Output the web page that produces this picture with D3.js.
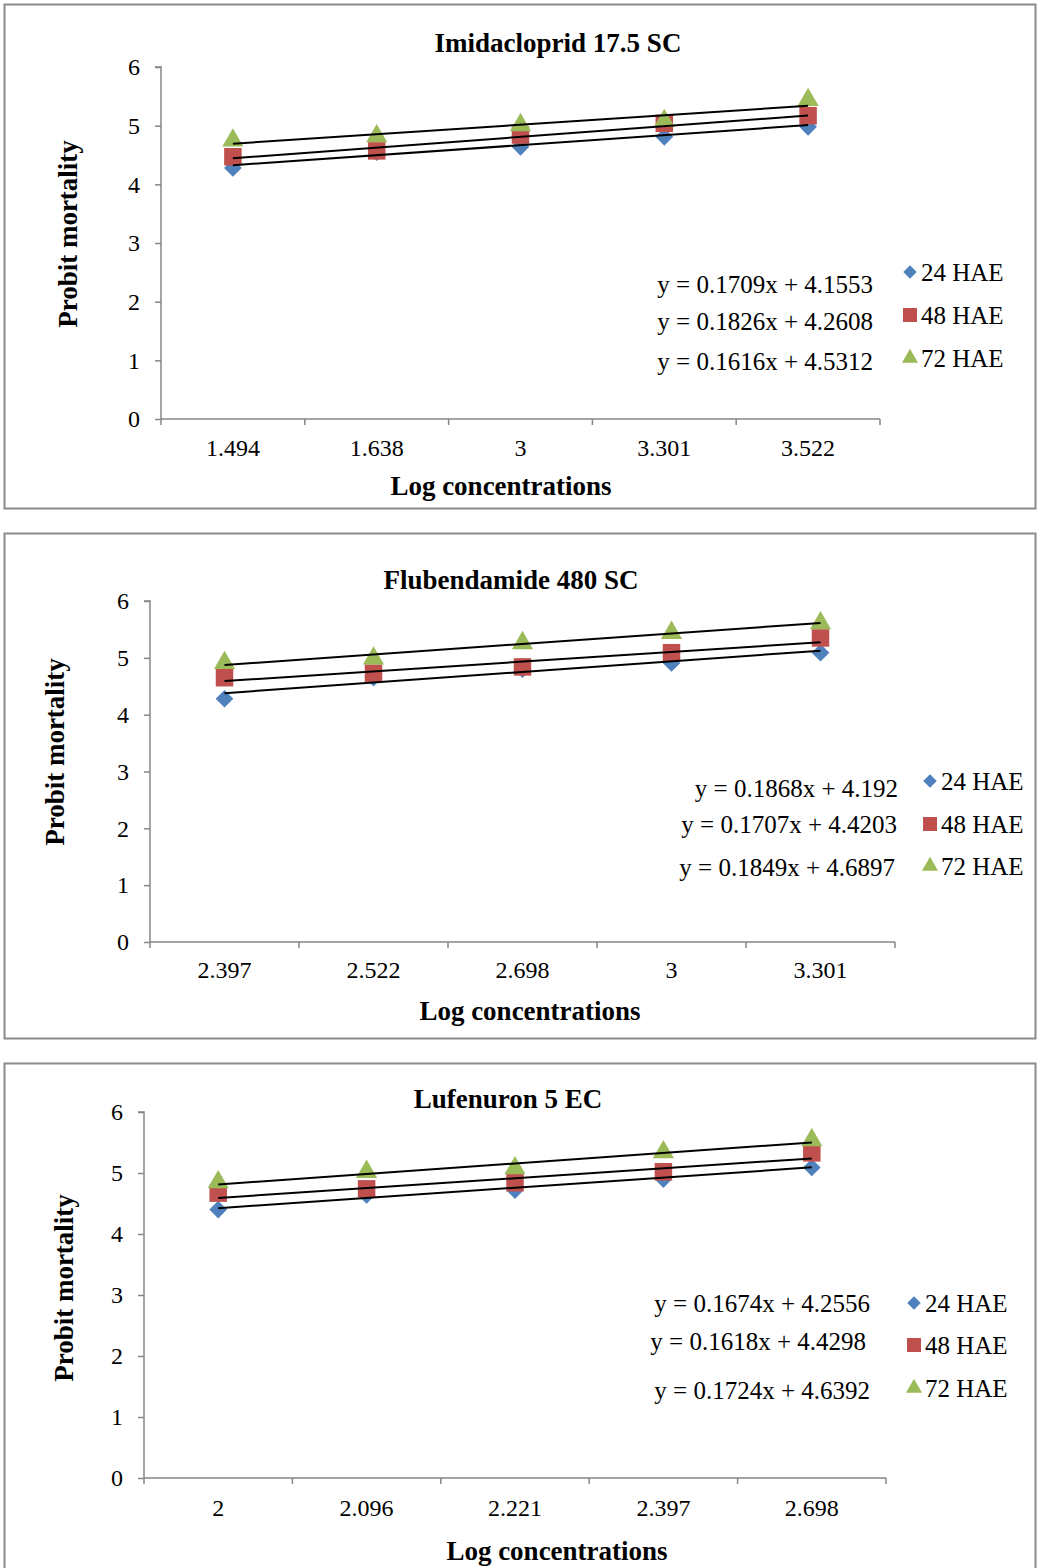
<!DOCTYPE html>
<html><head><meta charset="utf-8">
<script src="https://cdn.jsdelivr.net/npm/d3@7"></script>
<style>
body{margin:0;background:#fff;}
svg text{font-family:"Liberation Serif","Times New Roman",serif;fill:#000;}
</style></head>
<body>
<svg id="chart" width="1040" height="1568"></svg>
<script>
// ---------- DATA ----------
const seriesNames = ["24 HAE", "48 HAE", "72 HAE"];
const yTicks = [0, 1, 2, 3, 4, 5, 6];

const titles = ["Imidacloprid 17.5 SC", "Flubendamide 480 SC", "Lufenuron 5 EC"];

const imidaCategories = ["1.494", "1.638", "3", "3.301", "3.522"];
const imida24 = [4.28, 4.55, 4.64, 4.81, 4.98];
const imida48 = [4.47, 4.57, 4.84, 5.04, 5.17];
const imida72 = [4.75, 4.82, 5.01, 5.08, 5.44];
const imidaSlopes = [0.1709, 0.1826, 0.1616];
const imidaIntercepts = [4.1553, 4.2608, 4.5312];

const flubCategories = ["2.397", "2.522", "2.698", "3", "3.301"];
const flub24 = [4.28, 4.65, 4.80, 4.91, 5.09];
const flub48 = [4.65, 4.73, 4.84, 5.09, 5.35];
const flub72 = [4.91, 4.99, 5.26, 5.44, 5.61];
const flubSlopes = [0.1868, 0.1707, 0.1849];
const flubIntercepts = [4.192, 4.4203, 4.6897];

const lufCategories = ["2", "2.096", "2.221", "2.397", "2.698"];
const luf24 = [4.40, 4.64, 4.72, 4.90, 5.09];
const luf48 = [4.67, 4.74, 4.84, 5.02, 5.33];
const luf72 = [4.85, 5.02, 5.08, 5.34, 5.54];
const lufSlopes = [0.1674, 0.1618, 0.1724];
const lufIntercepts = [4.2556, 4.4298, 4.6392];

// ---------- STYLE ----------
const colors = ["#4F81BD", "#C0504D", "#9BBB59"];
const symbols = [d3.symbolDiamond2, d3.symbolSquare2, d3.symbolTriangle2];
const markerSizes = [200, 390, 320];
const legendSizes = [115, 250, 185];
const axisColor = "#868686";

const panels = [
  {title: titles[0], cats: imidaCategories, series: [imida24, imida48, imida72],
   slopes: imidaSlopes, intercepts: imidaIntercepts,
   frame: {x: 4.5, y: 4.5, w: 1031, h: 504},
   plot: {left: 161, right: 880, top: 67, bottom: 419},
   titlePos: [558, 43], xTitlePos: [501, 486], yTitlePos: [68, 234], xLabOff: 29,
   eq: {x: [873, 873, 873], y: [284, 321, 361]},
   leg: {x: 910, y: [272, 315, 358]}},
  {title: titles[1], cats: flubCategories, series: [flub24, flub48, flub72],
   slopes: flubSlopes, intercepts: flubIntercepts,
   frame: {x: 4.5, y: 533.5, w: 1031, h: 505},
   plot: {left: 150, right: 895, top: 601, bottom: 942},
   titlePos: [511, 580], xTitlePos: [530, 1011], yTitlePos: [55, 752], xLabOff: 28,
   eq: {x: [898, 897, 895], y: [788, 824, 867]},
   leg: {x: 930, y: [781, 824, 866]}},
  {title: titles[2], cats: lufCategories, series: [luf24, luf48, luf72],
   slopes: lufSlopes, intercepts: lufIntercepts,
   frame: {x: 4.5, y: 1063.5, w: 1031, h: 520},
   plot: {left: 144, right: 886, top: 1112, bottom: 1478},
   titlePos: [508, 1099], xTitlePos: [557, 1551], yTitlePos: [64, 1288], xLabOff: 30,
   eq: {x: [870, 866, 870], y: [1303, 1341, 1390]},
   leg: {x: 914, y: [1303, 1345, 1388]}}
];

const svg = d3.select("#chart");

panels.forEach(p => {
  const g = svg.append("g");
  g.append("rect").attr("x", p.frame.x).attr("y", p.frame.y)
    .attr("width", p.frame.w).attr("height", p.frame.h)
    .attr("fill", "#fff").attr("stroke", "#8a8a8a").attr("stroke-width", 2);

  const x = d3.scaleBand().domain(p.cats).range([p.plot.left, p.plot.right]).padding(0);
  const y = d3.scaleLinear().domain([0, 6]).range([p.plot.bottom, p.plot.top]);
  const cx = c => x(c) + x.bandwidth() / 2;

  // y axis
  const ya = g.append("g").attr("transform", `translate(${p.plot.left},0)`)
    .call(d3.axisLeft(y).tickValues(yTicks).tickSize(6).tickPadding(15).tickFormat(d3.format("d")));
  ya.select(".domain").attr("stroke", axisColor).attr("stroke-width", 1.5).attr("d", `M-6,${p.plot.top}H0V${p.plot.bottom}`);
  ya.selectAll(".tick line").attr("stroke", axisColor).attr("stroke-width", 1.5);
  ya.selectAll(".tick text").attr("font-size", 24).attr("font-family", "Liberation Serif");

  // x axis
  const xa = g.append("g").attr("transform", `translate(0,${p.plot.bottom})`)
    .call(d3.axisBottom(x).tickSize(0).tickPadding(p.xLabOff - 8));
  xa.select(".domain").attr("stroke", axisColor).attr("stroke-width", 1.5).attr("d", `M${p.plot.left},0H${p.plot.right}`);
  xa.selectAll(".tick text").attr("font-size", 24).attr("font-family", "Liberation Serif")
    .attr("dy", null).attr("y", p.xLabOff).attr("dominant-baseline", "central");
  const bounds = p.cats.map(c => x(c)).concat([x(p.cats[p.cats.length - 1]) + x.bandwidth()]);
  xa.selectAll("line.bt").data(bounds).join("line").attr("class", "bt")
    .attr("x1", d => d).attr("x2", d => d).attr("y1", 0).attr("y2", 6)
    .attr("stroke", axisColor).attr("stroke-width", 1.5);

  // markers
  p.series.forEach((vals, si) => {
    g.append("g").selectAll("path").data(vals).join("path")
      .attr("d", d3.symbol().type(symbols[si]).size(markerSizes[si]))
      .attr("transform", (d, i) => `translate(${cx(p.cats[i])},${y(d)})`)
      .attr("fill", colors[si]);
  });

  // trendlines
  p.slopes.forEach((a, si) => {
    const b = p.intercepts[si];
    const n = p.cats.length;
    g.append("line")
      .attr("x1", cx(p.cats[0])).attr("y1", y(a * 1 + b))
      .attr("x2", cx(p.cats[n - 1])).attr("y2", y(a * n + b))
      .attr("stroke", "#000").attr("stroke-width", 2);
  });

  // equations
  p.slopes.forEach((a, si) => {
    g.append("text").attr("x", p.eq.x[si]).attr("y", p.eq.y[si])
      .attr("text-anchor", "end").attr("dominant-baseline", "central")
      .attr("font-size", 25).text(`y = ${a}x + ${p.intercepts[si]}`);
  });

  // legend
  seriesNames.forEach((nm, si) => {
    g.append("path").attr("d", d3.symbol().type(symbols[si]).size(legendSizes[si]))
      .attr("transform", `translate(${p.leg.x},${p.leg.y[si]})`).attr("fill", colors[si]);
    g.append("text").attr("x", p.leg.x + 11).attr("y", p.leg.y[si])
      .attr("dominant-baseline", "central").attr("font-size", 25).text(nm);
  });

  // titles
  g.append("text").attr("x", p.titlePos[0]).attr("y", p.titlePos[1])
    .attr("text-anchor", "middle").attr("dominant-baseline", "central")
    .attr("font-size", 27).attr("font-weight", "bold").text(p.title);
  g.append("text").attr("x", p.xTitlePos[0]).attr("y", p.xTitlePos[1])
    .attr("text-anchor", "middle").attr("dominant-baseline", "central")
    .attr("font-size", 27).attr("font-weight", "bold").text("Log concentrations");
  g.append("text").attr("transform", `translate(${p.yTitlePos[0]},${p.yTitlePos[1]}) rotate(-90)`)
    .attr("text-anchor", "middle").attr("dominant-baseline", "central")
    .attr("font-size", 27).attr("font-weight", "bold").text("Probit mortality");
});
</script>
</body></html>
